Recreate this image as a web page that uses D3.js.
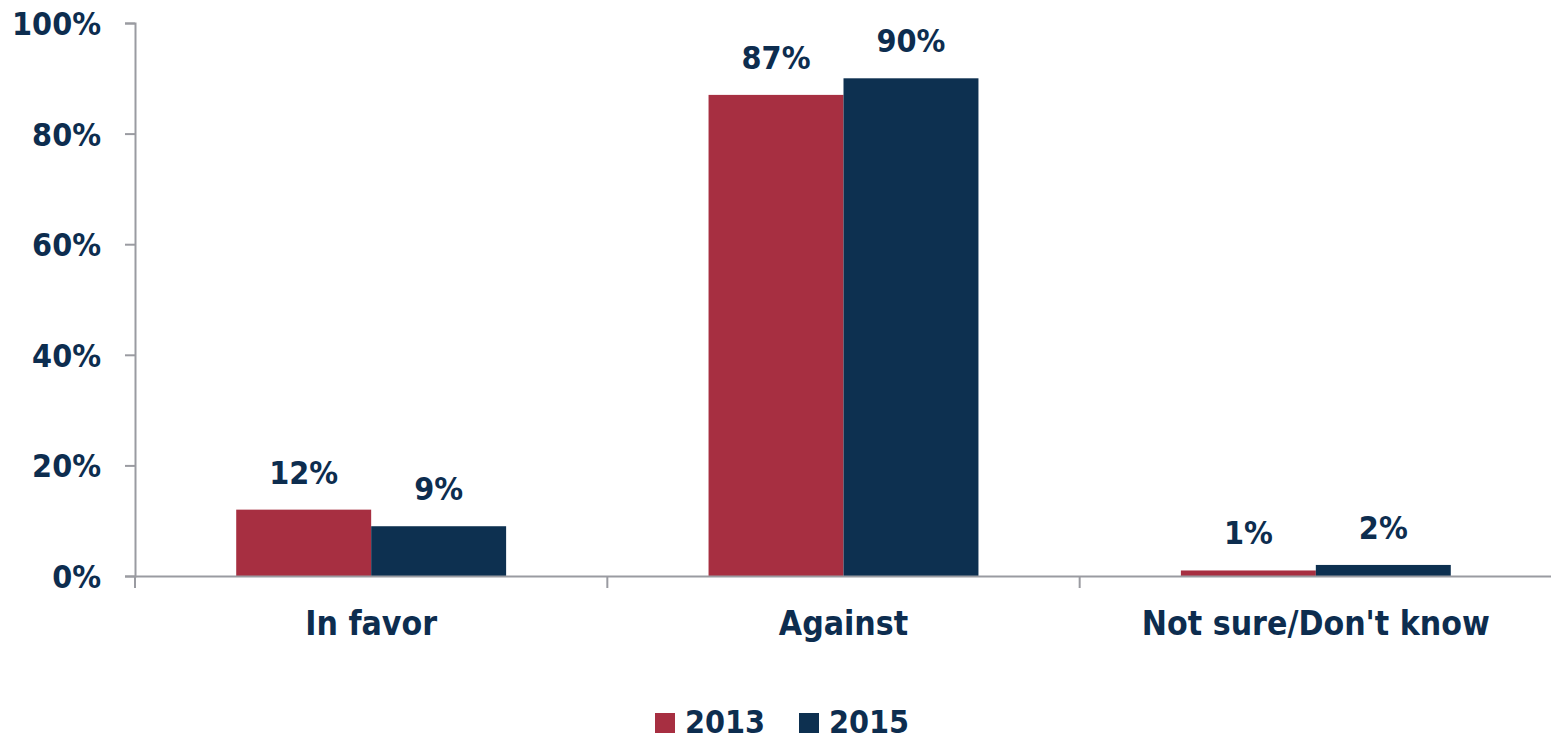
<!DOCTYPE html>
<html><head><meta charset="utf-8">
<script src="https://cdn.jsdelivr.net/npm/d3@7"></script>
<style>
body{margin:0;background:#fff;}
text{font-family:"DejaVu Sans Condensed","DejaVu Sans",sans-serif;font-weight:bold;fill:#0D2D4F;}
</style></head>
<body><svg id="c" width="1551" height="742"></svg>
<script>
const categories = ["In favor", "Against", "Not sure/Don't know"];
const seriesNames = ["2013", "2015"];
const values2013 = [12, 87, 1];
const values2015 = [9, 90, 2];
const yTicks = [0, 20, 40, 60, 80, 100];
const colors = ["#A72F41", "#0D3050"];

const svg = d3.select("#c");
const mLeft = 135, mRight = 1552, mTop = 23, mBottom = 576;
const x = d3.scaleBand().domain(categories).range([mLeft, mRight]).paddingInner(0).paddingOuter(0);
const inner = d3.scaleBand().domain(seriesNames).range([0, x.bandwidth()]).paddingOuter(0.75).paddingInner(0);
const y = d3.scaleLinear().domain([0, 100]).range([mBottom, mTop]);

// y axis
const ya = svg.append("g").attr("transform", `translate(${mLeft},0)`)
  .call(d3.axisLeft(y).tickValues(yTicks).tickFormat(d => d + "%").tickSize(10).tickPadding(24));
ya.select(".domain").attr("stroke", "#9A9BA1").attr("stroke-width", 2);
ya.selectAll(".tick line").attr("stroke", "#9A9BA1").attr("stroke-width", 2);
ya.selectAll(".tick text").style("font-size", "32px").attr("dy", "0.36em").style("fill", "#0D2D4F")
  .style("font-family", "'DejaVu Sans Condensed','DejaVu Sans',sans-serif").style("font-weight", "bold");

// bars
const data = categories.map((c, i) => ({c, vals: [values2013[i], values2015[i]]}));
const g = svg.append("g");
data.forEach(d => {
  seriesNames.forEach((s, j) => {
    const v = d.vals[j];
    const bx = x(d.c) + inner(s);
    g.append("rect").attr("x", bx).attr("y", y(v)).attr("width", inner.bandwidth())
      .attr("height", y(0) - y(v)).attr("fill", colors[j]);
    g.append("text").attr("x", bx + inner.bandwidth() / 2).attr("y", y(v) - 26)
      .attr("text-anchor", "middle").style("font-size", "32px").text(v + "%");
  });
});

// x axis
const xa = svg.append("g").attr("transform", `translate(0,${mBottom})`)
  .call(d3.axisBottom(x).tickSize(0).tickPadding(0).tickFormat(""));
xa.select(".domain").attr("stroke", "#9A9BA1").attr("stroke-width", 2);
const bounds = [x(categories[0])].concat(categories.map(c => x(c) + x.bandwidth()));
svg.append("g").selectAll("line").data(bounds).join("line")
  .attr("x1", d => d).attr("x2", d => d).attr("y1", mBottom).attr("y2", mBottom + 12)
  .attr("stroke", "#9A9BA1").attr("stroke-width", 2);
svg.append("g").selectAll("text").data(categories).join("text")
  .attr("x", d => x(d) + x.bandwidth() / 2).attr("y", 635).attr("text-anchor", "middle")
  .style("font-size", "33.5px").text(d => d);

// legend
const lg = svg.append("g");
const legendX = [655, 799];
seriesNames.forEach((s, j) => {
  lg.append("rect").attr("x", legendX[j]).attr("y", 713).attr("width", 20).attr("height", 20).attr("fill", colors[j]);
  lg.append("text").attr("x", legendX[j] + 30).attr("y", 733).style("font-size", "32px").text(s);
});
</script></body></html>
